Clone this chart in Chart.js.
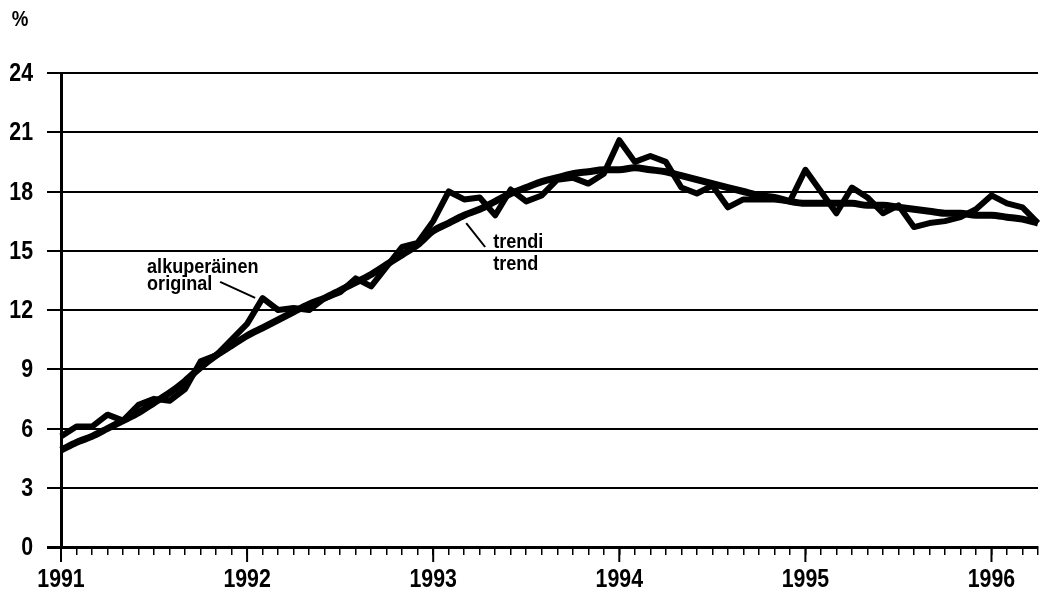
<!DOCTYPE html>
<html>
<head>
<meta charset="utf-8">
<script src="https://cdn.jsdelivr.net/npm/chart.js@4.4.0/dist/chart.umd.min.js"></script>
<style>
  html, body { margin: 0; padding: 0; background: #fff; }
  #wrap { width: 1045px; height: 598px; position: relative; }
</style>
</head>
<body>
<div id="wrap"><canvas id="chart"></canvas></div>
<script>
const years = ["1991", "1992", "1993", "1994", "1995", "1996"];

// one label per month, Jan 1991 .. Apr 1996
const months = [];
years.forEach(y => {
    for (let m = 1; m <= 12; m++) months.push(y + "-" + String(m).padStart(2, "0"));
});
months.length = 64;

// original series (alkuperäinen), % per month
const original = [
    5.6, 6.1, 6.1, 6.7, 6.4, 7.2, 7.5, 7.4, 8.0, 9.4, 9.7, 10.5,
    11.3, 12.6, 12.0, 12.1, 12.0, 12.6, 12.9, 13.6, 13.2, 14.2, 15.2, 15.4,
    16.5, 18.0, 17.6, 17.7, 16.8, 18.1, 17.5, 17.8, 18.6, 18.7, 18.4, 18.9,
    20.6, 19.5, 19.8, 19.5, 18.2, 17.9, 18.3, 17.2, 17.6, 17.6, 17.6, 17.5,
    19.1, 18.0, 16.9, 18.2, 17.7, 16.9, 17.3, 16.2, 16.4, 16.5, 16.7, 17.1,
    17.8, 17.4, 17.2, 16.4
];

// trend series (trendi)
const trend = [
    4.9, 5.3, 5.6, 6.0, 6.4, 6.8, 7.3, 7.8, 8.4, 9.1, 9.7, 10.2,
    10.7, 11.1, 11.5, 11.9, 12.3, 12.6, 13.0, 13.4, 13.8, 14.3, 14.8, 15.3,
    16.0, 16.4, 16.8, 17.1, 17.5, 17.9, 18.2, 18.5, 18.7, 18.9, 19.0, 19.1,
    19.1, 19.2, 19.1, 19.0, 18.8, 18.6, 18.4, 18.2, 18.0, 17.8, 17.7, 17.5,
    17.4, 17.4, 17.4, 17.4, 17.3, 17.3, 17.2, 17.1, 17.0, 16.9, 16.9, 16.8,
    16.8, 16.7, 16.6, 16.4
];

const yMin = 0, yMax = 24, yStep = 3;

const FONT = '"Liberation Sans", Arial, sans-serif';
Chart.defaults.font.family = FONT;
Chart.defaults.color = "#000";

// condensed text: no narrow face is installed, so squeeze it horizontally
function narrowText(ctx, text, x, y, align, squeeze) {
    ctx.save();
    ctx.translate(x, y);
    ctx.scale(squeeze, 1);
    ctx.textAlign = align;
    ctx.fillText(text, 0, 0);
    ctx.restore();
}

// tick labels, longer year ticks, unit sign and the two line labels
const extras = {
    id: "extras",
    afterDraw(chart) {
        const { ctx, scales: { x, y } } = chart;
        const bottom = chart.chartArea.bottom;
        ctx.save();
        ctx.strokeStyle = "#000";
        ctx.fillStyle = "#000";
        ctx.lineWidth = 2;
        for (let i = 0; i < months.length; i += 12) {
            const px = x.getPixelForValue(i);
            ctx.beginPath();
            ctx.moveTo(px, bottom);
            ctx.lineTo(px, bottom + 15);
            ctx.stroke();
        }

        ctx.font = "bold 26px " + FONT;
        ctx.textBaseline = "middle";
        y.ticks.forEach(t => {
            narrowText(ctx, String(t.value), 33, y.getPixelForValue(t.value) + 1, "right", 0.82);
        });
        for (let i = 0; i < months.length; i += 12) {
            narrowText(ctx, years[i / 12], x.getPixelForValue(i), bottom + 33, "center", 0.82);
        }

        ctx.font = "bold 22px " + FONT;
        narrowText(ctx, "%", 20, 20, "center", 0.85);

        ctx.font = "bold 21px " + FONT;
        ctx.textBaseline = "alphabetic";
        narrowText(ctx, "alkuperäinen", x.getPixelForValue(5.55), y.getPixelForValue(13.87), "left", 0.86);
        narrowText(ctx, "original", x.getPixelForValue(5.55), y.getPixelForValue(13.01), "left", 0.86);
        narrowText(ctx, "trendi", x.getPixelForValue(27.87), y.getPixelForValue(15.14), "left", 0.86);
        narrowText(ctx, "trend", x.getPixelForValue(27.87), y.getPixelForValue(14.03), "left", 0.86);

        ctx.lineWidth = 2;
        ctx.beginPath();
        ctx.moveTo(x.getPixelForValue(10.26), y.getPixelForValue(13.42));
        ctx.lineTo(x.getPixelForValue(12.52), y.getPixelForValue(12.61));
        ctx.moveTo(x.getPixelForValue(26.13), y.getPixelForValue(16.4));
        ctx.lineTo(x.getPixelForValue(27.35), y.getPixelForValue(15.19));
        ctx.stroke();
        ctx.restore();
    }
};

new Chart(document.getElementById("chart"), {
    type: "line",
    data: {
        labels: months,
        datasets: [
            {
                label: "trendi",
                data: trend,
                borderColor: "#000",
                borderWidth: 7,
                pointRadius: 0,
                tension: 0.4,
                cubicInterpolationMode: "monotone"
            },
            {
                label: "alkuperäinen",
                data: original,
                borderColor: "#000",
                borderWidth: 6,
                pointRadius: 0,
                tension: 0,
                borderJoinStyle: "round"
            }
        ]
    },
    options: {
        responsive: true,
        maintainAspectRatio: false,
        animation: false,
        layout: { padding: { top: 73, right: 7, left: 0, bottom: 0 } },
        plugins: { legend: { display: false }, tooltip: { enabled: false } },
        scales: {
            x: {
                offset: false,
                afterFit: s => { s.height = 51; },
                grid: {
                    drawOnChartArea: false,
                    tickLength: 8,
                    lineWidth: 1.5,
                    color: "#000"
                },
                border: { display: true, color: "#000", width: 3 },
                ticks: { display: false, autoSkip: false }
            },
            y: {
                min: yMin,
                max: yMax,
                afterFit: s => { s.width = 61; },
                grid: {
                    color: "#000",
                    lineWidth: c => (c.tick && c.tick.value === 0 ? 3 : 2),
                    tickLength: 14
                },
                border: { display: true, color: "#000", width: 3 },
                ticks: { display: false, stepSize: yStep }
            }
        }
    },
    plugins: [extras]
});
</script>
</body>
</html>
